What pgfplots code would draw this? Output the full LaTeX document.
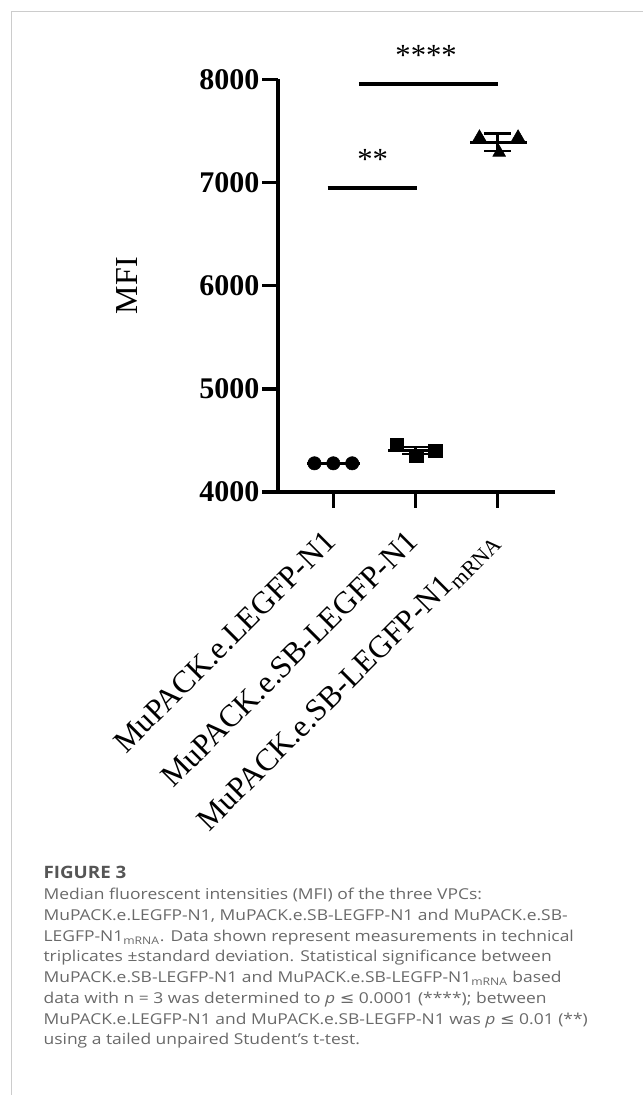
\documentclass[border=0pt]{standalone}
\usepackage{pgfplots}
\pgfplotsset{compat=1.18}
\usepackage{fontspec}
\setmainfont{Liberation Serif}
\newfontfamily\capfont{Open Sans}
\newfontfamily\symfont{DejaVu Sans}
\definecolor{capgray}{HTML}{696969}
\definecolor{headgray}{HTML}{555555}
\definecolor{framegray}{HTML}{CCCCCC}
\newcommand{\capline}[1]{\scalebox{1.163}[1]{#1}}
\begin{document}
\begin{tikzpicture}
\begin{scope}[x=0.75pt,y=0.75pt]
\path[use as bounding box] (0,0) rectangle (643,1095);
\draw[framegray, line width=0.9pt] (11.7,0) -- (11.7,1083.3) -- (643,1083.3);
\end{scope}
\begin{axis}[
  at={(208.5pt,452.25pt)}, anchor=south west,
  scale only axis, width=207.75pt, height=309.5pt,
  xmin=-0.674, xmax=2.70, ymin=4000, ymax=8000,
  axis x line=bottom, axis y line=left,
  axis line style={line width=3pt, -},
  tick align=outside, major tick length=11.8pt,
  tick style={line width=2.6pt, black},
  xtick={0,1,2},
  xticklabels={MuPACK.e.LEGFP-N1, MuPACK.e.SB-LEGFP-N1, MuPACK.e.SB-LEGFP-N1\textsubscript{mRNA}},
  ytick={4000,5000,6000,7000,8000},
  yticklabels={4000,5000,6000,7000,8000},
  yticklabel style={font=\fontsize{22.5pt}{22.5pt}\selectfont\bfseries, inner sep=2pt},
  xticklabel style={font=\fontsize{23.5pt}{23.5pt}\selectfont, rotate=45, anchor=east},
  xticklabel shift=19pt,
  ylabel={MFI},
  ylabel style={font=\fontsize{24pt}{24pt}\selectfont, at={(axis description cs:-0.545,0.5)}, anchor=center},
  clip=false,
]
\addplot[only marks, mark=*, mark size=5pt, black] coordinates {(-0.23,4278) (0,4278) (0.23,4278)};
\addplot[only marks, mark=square*, mark size=5pt, black] coordinates {(0.77,4455) (1.01,4348) (1.24,4400)};
\addplot[only marks, mark=triangle*, mark size=5.5pt, black] coordinates {(1.78,7440) (2.02,7290) (2.25,7440)};
% mean lines
\addplot[black, line width=2.3pt] coordinates {(-0.32,4278) (0.33,4278)};
\addplot[black, line width=2.3pt] coordinates {(0.67,4401) (1.34,4401)};
\addplot[black, line width=2.3pt] coordinates {(1.67,7390) (2.36,7390)};
% error bars
\addplot[black, line width=1.8pt] coordinates {(1,4366) (1,4436)};
\addplot[black, line width=1.8pt] coordinates {(0.84,4436) (1.16,4436)};
\addplot[black, line width=1.8pt] coordinates {(0.84,4366) (1.16,4366)};
\addplot[black, line width=1.8pt] coordinates {(2,7304) (2,7476)};
\addplot[black, line width=1.8pt] coordinates {(1.84,7476) (2.16,7476)};
\addplot[black, line width=1.8pt] coordinates {(1.84,7304) (2.16,7304)};
% significance
\addplot[black, line width=3pt] coordinates {(0.31,7958) (2.01,7958)};
\addplot[black, line width=3pt] coordinates {(-0.07,6947) (1.02,6947)};
\node[anchor=base, font=\fontsize{23pt}{23pt}\selectfont] at (axis cs:1.13,8132) {****};
\node[anchor=base, font=\fontsize{23pt}{23pt}\selectfont] at (axis cs:0.48,7130) {**};
\end{axis}
\begin{scope}[x=0.75pt,y=0.75pt]
\node[anchor=base west, inner sep=0pt, headgray, font=\capfont\bfseries\fontsize{12.8pt}{12.8pt}\selectfont] at (43.3,216.7) {\scalebox{1.10}[1]{FIGURE 3}};
\begin{scope}[every node/.style={anchor=base west, inner sep=0pt, capgray, font=\capfont\fontsize{11.25pt}{11.25pt}\selectfont}]
\node at (43.3,195) {\capline{Median fluorescent intensities (MFI) of the three VPCs:}};
\node at (43.3,174.3) {\capline{MuPACK.e.LEGFP-N1, MuPACK.e.SB-LEGFP-N1 and MuPACK.e.SB-}};
\node at (43.3,153.3) {\capline{LEGFP-N1\textsubscript{mRNA}. Data shown represent measurements in technical}};
\node at (43.3,133.3) {\capline{triplicates ±standard deviation. Statistical significance between}};
\node at (43.3,112.3) {\capline{MuPACK.e.SB-LEGFP-N1 and MuPACK.e.SB-LEGFP-N1\textsubscript{mRNA} based}};
\node at (43.3,91.7) {\capline{data with n = 3 was determined to \textit{p} {\symfont ≤} 0.0001 (****); between}};
\node at (43.3,70.7) {\capline{MuPACK.e.LEGFP-N1 and MuPACK.e.SB-LEGFP-N1 was \textit{p} {\symfont ≤} 0.01 (**)}};
\node at (43.3,50) {\capline{using a tailed unpaired Student’s t-test.}};
\end{scope}
\end{scope}
\end{tikzpicture}
\end{document}
